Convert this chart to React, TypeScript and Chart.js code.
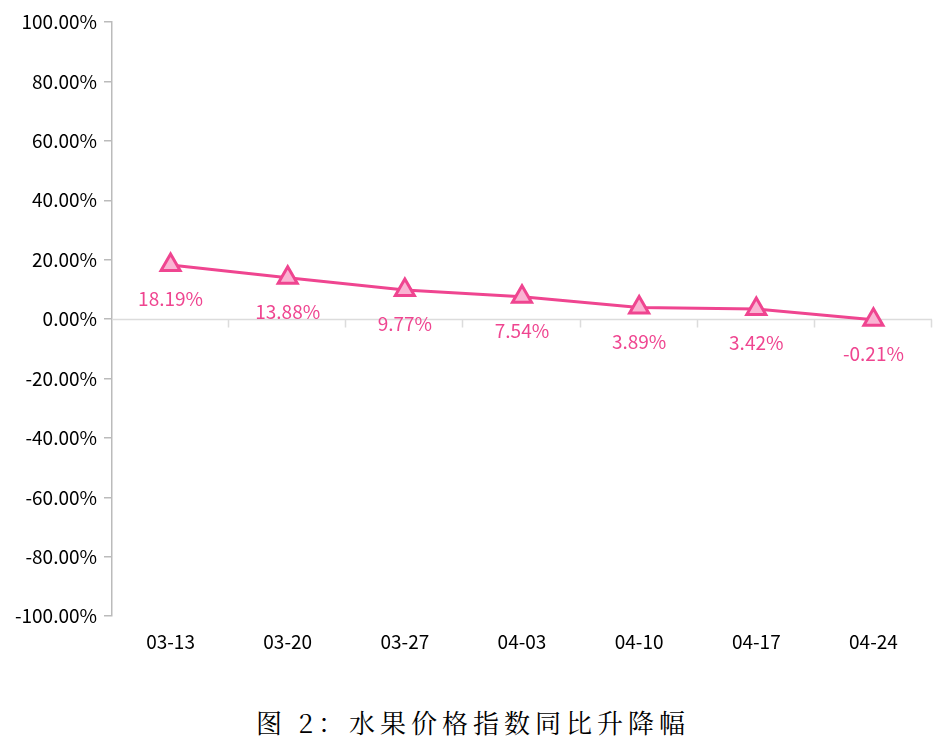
import React, { useEffect, useRef } from "react";
import { Chart, registerables } from "chart.js";

Chart.register(...registerables);

const categories: string[] = ["03-13", "03-20", "03-27", "04-03", "04-10", "04-17", "04-24"];
const values: number[] = [18.19, 13.88, 9.77, 7.54, 3.89, 3.42, -0.21];
const valueLabels: string[] = ["18.19%", "13.88%", "9.77%", "7.54%", "3.89%", "3.42%", "-0.21%"];
const yMin = -100;
const yMax = 100;
const yStep = 20;
const title = "图 2：水果价格指数同比升降幅";

const LINE = "#ef4590";
const FILL = "#fab4d3";
const FONT = "'Noto Sans CJK SC', 'Noto Sans', sans-serif";

const zeroLinePlugin = {
  id: "zeroLine",
  beforeDatasetsDraw(chart: any) {
    const { ctx, chartArea, scales } = chart;
    const y = Math.round(scales.y.getPixelForValue(0)) + 0.5;
    ctx.save();
    ctx.strokeStyle = "#dcdcdc";
    ctx.lineWidth = 1.5;
    ctx.beginPath();
    ctx.moveTo(chartArea.left, y);
    ctx.lineTo(chartArea.right, y);
    const n = categories.length;
    const w = (chartArea.right - chartArea.left) / n;
    for (let i = 1; i <= n; i++) {
      const x = Math.round(chartArea.left + i * w) - 0.5;
      ctx.moveTo(x, y);
      ctx.lineTo(x, y + 8);
    }
    ctx.stroke();
    ctx.restore();
  },
};

const labelPlugin = {
  id: "valueLabels",
  afterDatasetsDraw(chart: any) {
    const { ctx } = chart;
    const meta = chart.getDatasetMeta(0);
    ctx.save();
    ctx.fillStyle = LINE;
    ctx.font = `19px ${FONT}`;
    ctx.textAlign = "center";
    ctx.textBaseline = "middle";
    meta.data.forEach((pt: any, i: number) => {
      ctx.fillText(valueLabels[i], pt.x, pt.y + 34);
    });
    ctx.restore();
  },
};

export default function App() {
  const ref = useRef<HTMLCanvasElement | null>(null);
  useEffect(() => {
    if (!ref.current) return;
    const chart = new Chart(ref.current, {
      type: "line",
      data: {
        labels: categories,
        datasets: [
          {
            data: values,
            borderColor: LINE,
            borderWidth: 3,
            backgroundColor: FILL,
            pointStyle: "triangle",
            pointRadius: 11,
            pointBorderWidth: 3,
            pointBorderColor: LINE,
            pointBackgroundColor: FILL,
            tension: 0,
          },
        ],
      },
      options: {
        animation: false,
        responsive: false,
        maintainAspectRatio: false,
        layout: { padding: { top: 22, right: 8, bottom: 11, left: 0 } },
        plugins: { legend: { display: false }, tooltip: { enabled: false }, title: { display: false } },
        scales: {
          x: {
            offset: true,
            grid: { display: false },
            border: { display: false },
            ticks: { color: "#000", font: { size: 19, family: FONT }, padding: 6 },
          },
          y: {
            min: yMin,
            max: yMax,
            afterFit(scale: any) {
              scale.width = 112;
            },
            ticks: {
              stepSize: yStep,
              color: "#000",
              font: { size: 19, family: FONT },
              padding: 7,
              callback: (v: any) => Number(v).toFixed(2) + "%",
            },
            grid: { drawOnChartArea: false, drawTicks: true, tickLength: 8, color: "#bbbbbb", lineWidth: 1.5 },
            border: { display: true, color: "#bbbbbb", width: 1.5 },
          },
        },
      },
      plugins: [zeroLinePlugin, labelPlugin],
    });
    return () => chart.destroy();
  }, []);

  return (
    <div style={{ position: "absolute", left: 0, top: 0, width: 946, height: 747, background: "#fff" }}>
      <canvas ref={ref} width={946} height={670} style={{ position: "absolute", left: 0, top: 0, width: 946, height: 670 }} />
      <div
        style={{
          position: "absolute",
          left: 0,
          top: 703,
          width: 946,
          textAlign: "center",
          fontFamily: "'Noto Serif CJK SC', serif",
          fontSize: 26,
          letterSpacing: 5,
          lineHeight: "38px",
          color: "#000",
        }}
      >
        {title}
      </div>
    </div>
  );
}
